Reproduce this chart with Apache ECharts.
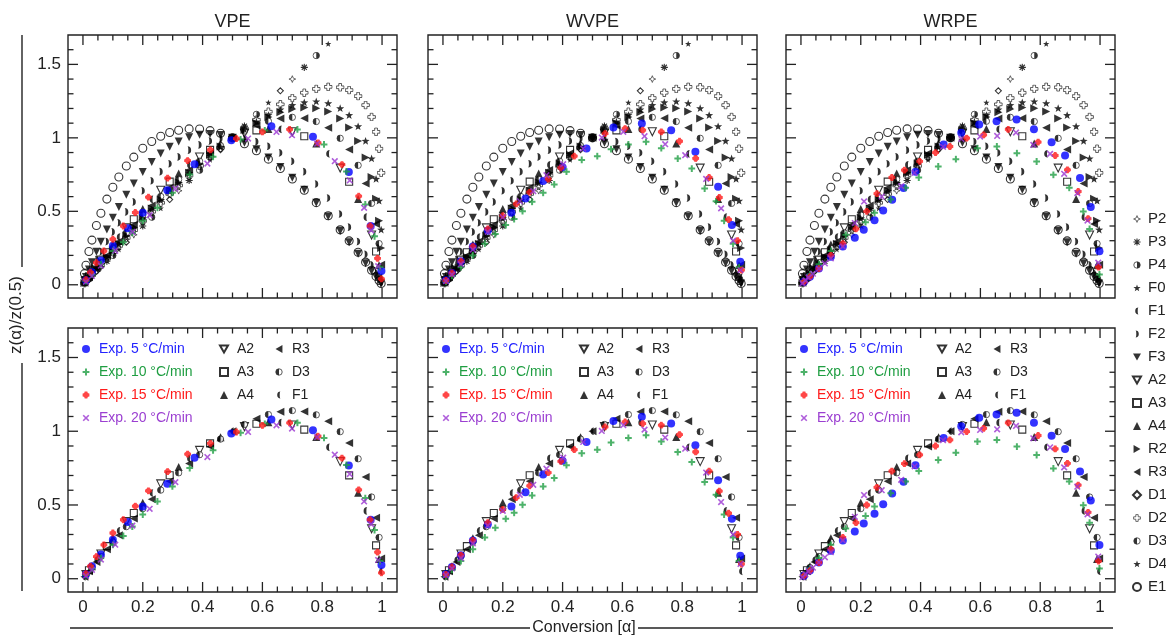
<!DOCTYPE html>
<html>
<head>
<meta charset="utf-8">
<script src="https://cdn.jsdelivr.net/npm/echarts@6/dist/echarts.min.js"></script>
<style>html,body{margin:0;padding:0;background:#fff}#c{width:1166px;height:637px}</style>
</head>
<body>
<div id="c"></div>
<script>
// ---------- DATA ----------
const panelNames = ['VPE', 'WVPE', 'WRPE'];
const xMajor = [0, 0.2, 0.4, 0.6, 0.8, 1];
const xMinor = [0.05, 0.1, 0.15, 0.25, 0.3, 0.35, 0.45, 0.5, 0.55, 0.65, 0.7, 0.75, 0.85, 0.9, 0.95];
const yMajor = [0, 0.5, 1, 1.5];
const yMinor = [0.1, 0.2, 0.3, 0.4, 0.6, 0.7, 0.8, 0.9, 1.1, 1.2, 1.3, 1.4, 1.6];

// conversion grid at which the kinetic-model master curves are shown
const alphaGrid = [0.005,0.01,0.02,0.03,0.045,0.06,0.08,0.1,0.12,0.145,0.17,0.2,0.23,0.26,0.29,0.32,0.355,0.39,0.425,0.46,0.5,0.54,0.58,0.62,0.66,0.7,0.74,0.78,0.82,0.86,0.89,0.92,0.945,0.965,0.98,0.99,0.997];
// master curves z(a)/z(0.5)
const zLine   = [0.01,0.02,0.04,0.06,0.09,0.12,0.16,0.2,0.24,0.29,0.34,0.4,0.46,0.52,0.58,0.64,0.71,0.78,0.85,0.92,1,1.08,1.16,1.24,1.32,1.4,1.48,1.56,1.64,null,null,null,null,null,null,null,null]; // P2,P3,P4,F0,D1
const zAvrami = [0.014,0.029,0.057,0.085,0.127,0.168,0.221,0.274,0.325,0.387,0.446,0.515,0.581,0.643,0.702,0.757,0.816,0.870,0.918,0.960,1,1.031,1.051,1.061,1.058,1.042,1.011,0.961,0.891,0.794,0.701,0.583,0.460,0.339,0.226,0.133,0.050]; // F1,A2,A3,A4
const zF2 = [0.020,0.040,0.078,0.116,0.172,0.226,0.294,0.360,0.422,0.496,0.564,0.640,0.708,0.770,0.824,0.870,0.916,0.952,0.978,0.994,1,0.994,0.974,0.942,0.898,0.840,0.770,0.686,0.590,0.482,0.392,0.294,0.208,0.135,0.078,0.040,0.012];
const zF3 = [0.027,0.053,0.104,0.153,0.224,0.292,0.377,0.456,0.529,0.613,0.689,0.768,0.836,0.893,0.939,0.975,1.004,1.021,1.026,1.020,1,0.967,0.922,0.867,0.802,0.728,0.647,0.558,0.464,0.366,0.290,0.212,0.146,0.093,0.053,0.027,0.008];
const zE1 = [0.076,0.133,0.226,0.304,0.403,0.487,0.583,0.664,0.734,0.808,0.869,0.929,0.975,1.011,1.036,1.052,1.061,1.060,1.049,1.031,1,0.960,0.912,0.855,0.791,0.720,0.643,0.559,0.470,0.374,0.299,0.221,0.154,0.099,0.057,0.029,0.009];
const zR2 = [0.012,0.024,0.048,0.072,0.107,0.143,0.189,0.235,0.280,0.336,0.391,0.456,0.519,0.581,0.640,0.698,0.763,0.826,0.885,0.941,1,1.054,1.101,1.142,1.174,1.196,1.207,1.202,1.179,1.131,1.070,0.979,0.867,0.734,0.586,0.435,0.250];
const zR3 = [0.013,0.026,0.051,0.076,0.114,0.151,0.200,0.248,0.295,0.353,0.409,0.475,0.539,0.601,0.661,0.718,0.781,0.841,0.896,0.947,1,1.046,1.084,1.113,1.132,1.140,1.134,1.111,1.068,0.997,0.920,0.813,0.690,0.554,0.413,0.280,0.137]; // R3,D3
const zD2 = [0.011,0.023,0.045,0.067,0.101,0.134,0.178,0.222,0.265,0.319,0.372,0.435,0.497,0.558,0.618,0.676,0.743,0.809,0.872,0.933,1,1.063,1.123,1.178,1.228,1.271,1.307,1.333,1.347,1.344,1.325,1.284,1.223,1.142,1.041,0.926,0.762];
const zD4 = [0.012,0.024,0.047,0.070,0.105,0.140,0.185,0.231,0.275,0.330,0.385,0.449,0.512,0.573,0.633,0.691,0.757,0.820,0.880,0.938,1,1.057,1.109,1.154,1.192,1.222,1.241,1.247,1.235,1.201,1.154,1.078,0.979,0.859,0.720,0.571,0.375];

// experimental data
const aVPE5  = [0.01,0.03,0.06,0.1,0.15,0.2,0.282,0.373,0.496,0.63,0.769,0.889,0.962,0.998];
const zVPE5  = [0.03,0.085,0.165,0.265,0.385,0.49,0.644,0.821,0.984,1.079,1.007,0.768,0.40,0.093];
const aVPE10 = [0.01,0.03,0.06,0.1,0.135,0.165,0.2,0.249,0.299,0.357,0.435,0.527,0.608,0.717,0.806,0.881,0.944,0.975,0.993];
const zVPE10 = [0.025,0.07,0.14,0.23,0.29,0.354,0.435,0.524,0.626,0.75,0.871,0.989,1.05,1.057,0.955,0.771,0.547,0.33,0.12];
const aVPE15 = [0.01,0.025,0.045,0.07,0.1,0.135,0.175,0.219,0.283,0.35,0.426,0.513,0.6,0.691,0.786,0.866,0.922,0.96,0.985,0.998];
const zVPE15 = [0.035,0.085,0.15,0.23,0.31,0.4,0.492,0.596,0.726,0.845,0.918,0.995,1.04,1.057,0.966,0.818,0.603,0.4,0.18,0.04];
const aVPE20 = [0.01,0.03,0.06,0.108,0.165,0.223,0.309,0.416,0.552,0.647,0.699,0.783,0.842,0.892,0.94,0.964,0.987];
const zVPE20 = [0.02,0.06,0.13,0.231,0.36,0.474,0.655,0.825,0.995,1.04,1.018,0.96,0.841,0.71,0.524,0.37,0.127];

const aWVPE5  = [0.01,0.03,0.06,0.1,0.15,0.229,0.276,0.335,0.4,0.48,0.57,0.665,0.763,0.844,0.92,0.966,0.994];
const zWVPE5  = [0.03,0.08,0.16,0.26,0.37,0.49,0.587,0.707,0.8,0.927,1.07,1.098,1.052,0.905,0.667,0.406,0.156];
const aWVPE10 = [0.01,0.03,0.06,0.1,0.14,0.175,0.21,0.238,0.266,0.298,0.335,0.372,0.413,0.464,0.516,0.562,0.62,0.679,0.73,0.785,0.832,0.875,0.913,0.94,0.97,0.99];
const zWVPE10 = [0.02,0.06,0.12,0.2,0.28,0.345,0.406,0.447,0.501,0.565,0.626,0.683,0.77,0.85,0.875,0.923,0.955,0.973,0.93,0.859,0.791,0.655,0.569,0.435,0.28,0.12];
const aWVPE15 = [0.01,0.03,0.06,0.1,0.15,0.2,0.245,0.29,0.352,0.394,0.439,0.542,0.609,0.668,0.73,0.791,0.845,0.89,0.924,0.955,0.985,0.998];
const zWVPE15 = [0.03,0.08,0.16,0.26,0.38,0.47,0.55,0.63,0.719,0.796,0.875,1.029,1.063,1.052,1.041,0.977,0.86,0.73,0.594,0.444,0.3,0.1];
const aWVPE20 = [0.01,0.03,0.06,0.1,0.15,0.2,0.257,0.302,0.346,0.402,0.469,0.531,0.603,0.674,0.743,0.81,0.88,0.93,0.97,0.995];
const zWVPE20 = [0.025,0.07,0.14,0.24,0.36,0.46,0.569,0.637,0.746,0.821,0.927,1.002,1.041,1.011,0.957,0.882,0.72,0.52,0.3,0.1];

const aWRPE5  = [0.01,0.03,0.06,0.1,0.14,0.18,0.21,0.246,0.275,0.305,0.343,0.383,0.477,0.536,0.596,0.654,0.721,0.779,0.838,0.883,0.933,0.969,0.998];
const zWRPE5  = [0.02,0.055,0.11,0.19,0.26,0.32,0.375,0.44,0.505,0.578,0.658,0.769,0.955,1.034,1.091,1.113,1.125,1.058,0.97,0.88,0.727,0.53,0.229];
const aWRPE10 = [0.01,0.03,0.06,0.1,0.15,0.216,0.246,0.3,0.35,0.394,0.459,0.518,0.59,0.655,0.722,0.788,0.844,0.897,0.944,0.965,0.998];
const zWRPE10 = [0.025,0.07,0.14,0.23,0.34,0.426,0.49,0.58,0.66,0.73,0.805,0.855,0.93,0.941,0.896,0.839,0.748,0.66,0.499,0.38,0.07];
const aWRPE15 = [0.01,0.03,0.06,0.1,0.14,0.184,0.22,0.254,0.304,0.346,0.397,0.45,0.498,0.554,0.611,0.693,0.793,0.85,0.891,0.927,0.96,0.995];
const zWRPE15 = [0.02,0.055,0.11,0.2,0.28,0.38,0.5,0.62,0.73,0.78,0.84,0.9,0.941,0.998,1.02,1.057,0.971,0.88,0.782,0.635,0.45,0.12];
const aWRPE20 = [0.005,0.015,0.025,0.04,0.06,0.08,0.1,0.14,0.18,0.211,0.27,0.335,0.38,0.475,0.536,0.599,0.656,0.719,0.777,0.833,0.88,0.924,0.958,0.994];
const zWRPE20 = [0.01,0.03,0.05,0.075,0.11,0.145,0.18,0.26,0.42,0.567,0.6,0.671,0.762,0.939,0.993,1.009,1.013,1.036,0.952,0.891,0.755,0.624,0.437,0.15];

// ---------- STYLE ----------
const FONT = '"Liberation Sans", Arial, Helvetica, sans-serif';
const INK = '#222';
function sym(inner) {
  return 'image://data:image/svg+xml;charset=utf-8,' + encodeURIComponent(
    '<svg xmlns="http://www.w3.org/2000/svg" width="40" height="40" viewBox="0 0 20 20">' + inner + '</svg>');
}
const SYM = {
  P2: sym('<path d="M10 1.5L12.4 7.6L18.5 10L12.4 12.4L10 18.5L7.6 12.4L1.5 10L7.6 7.6Z" fill="none" stroke="#000" stroke-width="1.8" stroke-linejoin="round"/>'),
  P3: sym('<path d="M10 1V19M1 10H19M3.6 3.6L16.4 16.4M16.4 3.6L3.6 16.4" stroke="#000" stroke-width="2.8"/>'),
  P4: sym('<circle cx="10" cy="10" r="8" fill="#fff" stroke="#000" stroke-width="2"/><path d="M10 2A8 8 0 0 1 10 18Z" fill="#000"/>'),
  D3: sym('<circle cx="10" cy="10" r="8" fill="#fff" stroke="#000" stroke-width="2"/><path d="M10 2A8 8 0 0 0 10 18Z" fill="#000"/>'),
  STAR: sym('<path d="M10 1.2L12.3 7.5L19 7.7L13.7 11.8L15.6 18.3L10 14.5L4.4 18.3L6.3 11.8L1 7.7L7.7 7.5Z" fill="#000"/>'),
  F1: sym('<path d="M14 1.5A8.5 8.5 0 0 0 14 18.5A2.2 8.5 0 0 1 14 1.5Z" fill="#000"/>'),
  F2: sym('<path d="M6 1.5A8.5 8.5 0 0 1 6 18.5A2.2 8.5 0 0 0 6 1.5Z" fill="#000"/>'),
  D2: sym('<path d="M7 1.5H13V7H18.5V13H13V18.5H7V13H1.5V7H7Z" fill="none" stroke="#000" stroke-width="1.8" stroke-linejoin="round"/>'),
  G: sym('<path d="M10 1.5V18.5M1.5 10H18.5" stroke="#22a046" stroke-width="5"/>'),
  R: sym('<path d="M6.5 1.5H13.5V6.5H18.5V13.5H13.5V18.5H6.5V13.5H1.5V6.5H6.5Z" fill="#ff1a1a"/><circle cx="10" cy="10" r="7" fill="#ff1a1a"/>'),
  X: sym('<path d="M3 3L17 17M17 3L3 17" stroke="#9b35d2" stroke-width="4"/>'),
  TDOWN: 'path://M0,0L10,0L5,8.66Z',
  TRIGHT: 'path://M0,0L8.66,5L0,10Z',
  TLEFT: 'path://M8.66,0L0,5L8.66,10Z'
};
const HOLLOW = { color: 'rgba(255,255,255,0)', borderColor: '#000', borderWidth: 1.1 };
const SOLID = { color: '#000' };

const modelDefs = [
  { name: 'P2', curve: zLine, step: 5, phase: 0, symbol: SYM.P2, size: 8 },
  { name: 'P3', curve: zLine, step: 5, phase: 1, symbol: SYM.P3, size: 8 },
  { name: 'P4', curve: zLine, step: 5, phase: 2, symbol: SYM.P4, size: 8 },
  { name: 'F0', curve: zLine, step: 5, phase: 3, symbol: SYM.STAR, size: 7 },
  { name: 'F1', curve: zAvrami, step: 4, phase: 0, symbol: SYM.F1, size: 9 },
  { name: 'F2', curve: zF2, step: 1, phase: 0, symbol: SYM.F2, size: 9 },
  { name: 'F3', curve: zF3, step: 1, phase: 0, symbol: SYM.TDOWN, size: 8, style: SOLID },
  { name: 'A2', curve: zAvrami, step: 4, phase: 1, symbol: SYM.TDOWN, size: 8, style: HOLLOW },
  { name: 'A3', curve: zAvrami, step: 4, phase: 2, symbol: 'rect', size: 7, style: HOLLOW },
  { name: 'A4', curve: zAvrami, step: 4, phase: 3, symbol: 'triangle', size: 8, style: SOLID },
  { name: 'R2', curve: zR2, step: 1, phase: 0, symbol: SYM.TRIGHT, size: 8, style: SOLID },
  { name: 'R3', curve: zR3, step: 2, phase: 0, symbol: SYM.TLEFT, size: 8, style: SOLID },
  { name: 'D1', curve: zLine, step: 5, phase: 4, symbol: 'diamond', size: 6, style: HOLLOW },
  { name: 'D2', curve: zD2, step: 1, phase: 0, symbol: SYM.D2, size: 9 },
  { name: 'D3', curve: zR3, step: 2, phase: 1, symbol: SYM.D3, size: 8 },
  { name: 'D4', curve: zD4, step: 1, phase: 0, symbol: SYM.STAR, size: 9 },
  { name: 'E1', curve: zE1, step: 1, phase: 0, symbol: 'circle', size: 8, style: HOLLOW }
];
const bottomModels = ['A2', 'A3', 'A4', 'R3', 'D3', 'F1'];
const expDefs = [
  { name: 'Exp. 5 °C/min', symbol: 'circle', size: 8, style: { color: '#0000ff' }, text: '#2323ff' },
  { name: 'Exp. 10 °C/min', symbol: SYM.G, size: 8, text: '#1f9e42' },
  { name: 'Exp. 15 °C/min', symbol: SYM.R, size: 8, text: '#ff1a1a' },
  { name: 'Exp. 20 °C/min', symbol: SYM.X, size: 8, text: '#9b3fd1' }
];
const expAlpha = [[aVPE5, aVPE10, aVPE15, aVPE20], [aWVPE5, aWVPE10, aWVPE15, aWVPE20], [aWRPE5, aWRPE10, aWRPE15, aWRPE20]];
const expZ = [[zVPE5, zVPE10, zVPE15, zVPE20], [zWVPE5, zWVPE10, zWVPE15, zWVPE20], [zWRPE5, zWRPE10, zWRPE15, zWRPE20]];

// ---------- LAYOUT ----------
const colLeft = [68, 428, 786];
const rowTop = [35, 328];
const rowH = [263, 264];
const W = 329;
const X_MIN = -0.05, X_MAX = 1.05, Y_MIN = -0.09, Y_MAX = 1.7;
const MAJ = 10, MIN = 5.5;

const grids = [], xAxes = [], yAxes = [], series = [], legends = [];

// tick marks (all four sides) placed through the axis scales
const tickData = [].concat(
  xMajor.map(v => [v, 0]), xMinor.map(v => [v, 1]),
  yMajor.map(v => [v, 2]), yMinor.map(v => [v, 3]));
function renderTick(params, api) {
  const v = api.value(0), k = api.value(1);
  const cs = params.coordSys;
  const st = { stroke: INK, lineWidth: 1.3 };
  if (k < 2) {
    const px = api.coord([v, 0])[0];
    const L = k === 0 ? MAJ : MIN;
    const b = cs.y + cs.height, t = cs.y;
    return { type: 'group', children: [
      { type: 'line', shape: { x1: px, y1: b, x2: px, y2: b - L }, style: st },
      { type: 'line', shape: { x1: px, y1: t, x2: px, y2: t + L }, style: st } ] };
  } else {
    const py = api.coord([0.5, v])[1];
    const L = k === 2 ? MAJ : MIN;
    const l = cs.x, r = cs.x + cs.width;
    return { type: 'group', children: [
      { type: 'line', shape: { x1: l, y1: py, x2: l + L, y2: py }, style: st },
      { type: 'line', shape: { x1: r, y1: py, x2: r - L, y2: py }, style: st } ] };
  }
}

for (let r = 0; r < 2; r++) {
  for (let c = 0; c < 3; c++) {
    const g = grids.length;
    grids.push({ left: colLeft[c], top: rowTop[r], width: W, height: rowH[r], show: true,
      borderColor: INK, borderWidth: 1.4, backgroundColor: 'rgba(0,0,0,0)' });
    xAxes.push({ type: 'value', gridIndex: g, min: X_MIN, max: X_MAX, position: 'bottom',
      splitLine: { show: false }, axisLine: { show: false, onZero: false }, axisTick: { show: false },
      axisLabel: { show: r === 1, customValues: xMajor, margin: 7, fontSize: 17, color: INK, fontFamily: FONT } });
    yAxes.push({ type: 'value', gridIndex: g, min: Y_MIN, max: Y_MAX, position: 'left',
      splitLine: { show: false }, axisLine: { show: false, onZero: false }, axisTick: { show: false },
      axisLabel: { show: c === 0, customValues: yMajor, margin: 7, fontSize: 17, color: INK, fontFamily: FONT } });

    series.push({ type: 'custom', xAxisIndex: g, yAxisIndex: g, data: tickData, renderItem: renderTick,
      silent: true, clip: false, z: 1 });

    const defs = r === 0 ? modelDefs : modelDefs.filter(m => bottomModels.indexOf(m.name) >= 0);
    defs.forEach(m => {
      const data = [];
      alphaGrid.forEach((a, i) => {
        if (i % m.step === m.phase && m.curve[i] != null) data.push([a, m.curve[i]]);
      });
      series.push({ type: 'scatter', name: m.name, xAxisIndex: g, yAxisIndex: g, data: data,
        symbol: m.symbol, symbolSize: m.size,
        itemStyle: m.style || { color: '#000' }, silent: true, z: 2, clip: true });
    });
    expDefs.forEach((e, k) => {
      const A = expAlpha[c][k], Z = expZ[c][k];
      series.push({ type: 'scatter', name: e.name, xAxisIndex: g, yAxisIndex: g,
        data: A.map((a, i) => [a, Z[i]]), symbol: e.symbol, symbolSize: e.size,
        itemStyle: e.style || { color: e.text }, silent: true, z: 3, clip: true });
    });
  }
}

// legends
const legBase = { orient: 'vertical', selectedMode: false, itemWidth: 8, itemHeight: 8, itemGap: 7, padding: 0 };
legends.push(Object.assign({}, legBase, { left: 1132, top: 211,
  textStyle: { fontSize: 15, lineHeight: 16, fontFamily: FONT, color: INK, padding: [0, 0, 0, 2] },
  data: modelDefs.map(m => m.name) }));
colLeft.forEach(L => {
  legends.push(Object.assign({}, legBase, { left: L + 14, top: 341,
    textStyle: { fontSize: 14, lineHeight: 16, fontFamily: FONT, padding: [0, 0, 0, 4] },
    data: expDefs.map(e => ({ name: e.name, textStyle: { color: e.text } })) }));
  legends.push(Object.assign({}, legBase, { left: L + 151, top: 341,
    textStyle: { fontSize: 14, lineHeight: 16, fontFamily: FONT, color: INK, padding: [0, 0, 0, 4] },
    data: ['A2', 'A3', 'A4'] }));
  legends.push(Object.assign({}, legBase, { left: L + 207, top: 341,
    textStyle: { fontSize: 14, lineHeight: 16, fontFamily: FONT, color: INK, padding: [0, 0, 0, 4] },
    data: ['R3', 'D3', 'F1'] }));
});

// static texts and decorative lines
const gEls = [];
panelNames.forEach((t, c) => {
  gEls.push({ type: 'text', x: colLeft[c] + W / 2, y: 22, style: { text: t, fontSize: 18, fontFamily: FONT, fill: INK, align: 'center', verticalAlign: 'middle' } });
});
gEls.push({ type: 'text', x: 16, y: 315, rotation: Math.PI / 2,
  style: { text: 'z(α)/z(0.5)', fontSize: 17, fontFamily: FONT, fill: INK, align: 'center', verticalAlign: 'middle' } });
gEls.push({ type: 'line', shape: { x1: 22, y1: 35, x2: 22, y2: 267 }, style: { stroke: INK, lineWidth: 1.4 } });
gEls.push({ type: 'line', shape: { x1: 22, y1: 363, x2: 22, y2: 591 }, style: { stroke: INK, lineWidth: 1.4 } });
gEls.push({ type: 'text', x: 584, y: 628,
  style: { text: 'Conversion [α]', fontSize: 16, fontFamily: FONT, fill: INK, align: 'center', verticalAlign: 'middle' } });
gEls.push({ type: 'line', shape: { x1: 70, y1: 628, x2: 530, y2: 628 }, style: { stroke: INK, lineWidth: 1.4 } });
gEls.push({ type: 'line', shape: { x1: 638, y1: 628, x2: 1113, y2: 628 }, style: { stroke: INK, lineWidth: 1.4 } });

const chart = echarts.init(document.getElementById('c'));
chart.setOption({
  animation: false,
  backgroundColor: '#fff',
  textStyle: { fontFamily: FONT },
  grid: grids, xAxis: xAxes, yAxis: yAxes, legend: legends, series: series,
  graphic: { elements: gEls }
});
</script>
</body>
</html>
